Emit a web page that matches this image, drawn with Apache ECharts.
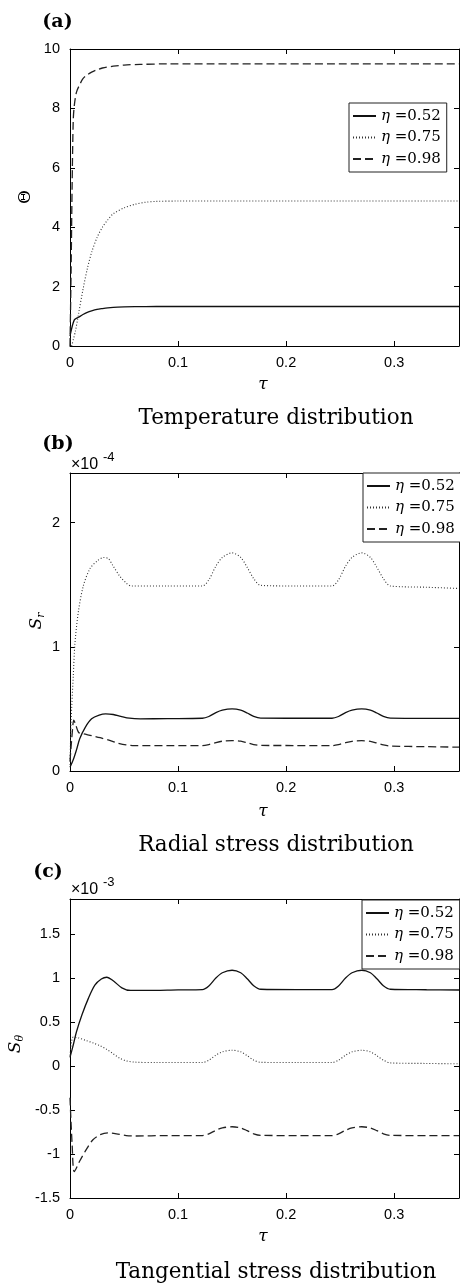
<!DOCTYPE html>
<html>
<head>
<meta charset="utf-8">
<script src="https://cdn.jsdelivr.net/npm/echarts@6/dist/echarts.min.js"></script>
<style>html,body{margin:0;padding:0;background:#fff;}#c{width:460px;height:1287px;}</style>
</head>
<body>
<div id="c"></div>
<script>
// ---- data ----
const etaNames = ['η =0.52', 'η =0.75', 'η =0.98'];
const panelTitles = ['Temperature distribution', 'Radial stress distribution', 'Tangential stress distribution'];
const xTicks = [0, 0.1, 0.2, 0.3];

// (a) Temperature Θ vs τ
const thetaEta052 = [[0,0.33],[0.004,0.88],[0.008,0.97],[0.012,1.06],[0.016,1.13],[0.02,1.18],[0.025,1.23],[0.03,1.26],[0.035,1.285],[0.04,1.3],[0.05,1.315],[0.06,1.325],[0.08,1.33],[0.12,1.33],[0.36,1.33]];
const thetaEta075 = [[0.0015,0],[0.005,0.5],[0.008,1.1],[0.012,1.9],[0.016,2.6],[0.02,3.15],[0.025,3.65],[0.03,4.0],[0.035,4.25],[0.04,4.45],[0.05,4.65],[0.06,4.77],[0.07,4.84],[0.08,4.87],[0.1,4.88],[0.36,4.88]];
const thetaEta098 = [[0,0],[0.001,2.5],[0.002,5.5],[0.003,7.6],[0.004,8.1],[0.006,8.55],[0.009,8.8],[0.012,9.0],[0.016,9.13],[0.02,9.22],[0.025,9.3],[0.03,9.36],[0.04,9.42],[0.05,9.46],[0.065,9.48],[0.09,9.5],[0.36,9.5]];

// (b) Radial stress S_r (×10^-4) vs τ
const srEta052 = [[0,0.03],[0.003,0.09],[0.006,0.17],[0.009,0.26],[0.014,0.35],[0.02,0.42],[0.027,0.45],[0.033,0.46],[0.04,0.455],[0.047,0.44],[0.055,0.425],[0.065,0.42],[0.09,0.422],[0.1225,0.425],[0.1285,0.439],[0.135,0.47],[0.141,0.49],[0.15,0.5],[0.158,0.49],[0.164,0.467],[0.17,0.44],[0.1765,0.426],[0.2,0.425],[0.2425,0.425],[0.2485,0.439],[0.255,0.47],[0.261,0.49],[0.27,0.5],[0.278,0.49],[0.284,0.467],[0.29,0.44],[0.2965,0.426],[0.33,0.424],[0.36,0.424]];
const srEta075 = [[0,0.05],[0.001,0.4],[0.003,0.76],[0.0046,1.03],[0.0077,1.28],[0.0123,1.49],[0.0185,1.63],[0.025,1.69],[0.031,1.72],[0.0355,1.71],[0.04,1.65],[0.046,1.57],[0.0525,1.51],[0.057,1.49],[0.09,1.49],[0.1225,1.49],[0.1285,1.54],[0.135,1.65],[0.141,1.72],[0.15,1.757],[0.158,1.72],[0.164,1.64],[0.17,1.55],[0.1765,1.495],[0.21,1.49],[0.2425,1.49],[0.2485,1.54],[0.255,1.65],[0.261,1.72],[0.27,1.757],[0.278,1.72],[0.284,1.64],[0.29,1.55],[0.2965,1.49],[0.33,1.48],[0.36,1.47]];
const srEta098 = [[0,0.08],[0.002,0.3],[0.0035,0.41],[0.005,0.38],[0.008,0.31],[0.012,0.3],[0.02,0.285],[0.028,0.268],[0.036,0.248],[0.044,0.225],[0.052,0.21],[0.06,0.205],[0.09,0.205],[0.1225,0.205],[0.1285,0.213],[0.135,0.229],[0.141,0.24],[0.15,0.245],[0.158,0.24],[0.164,0.227],[0.17,0.213],[0.1765,0.206],[0.21,0.205],[0.2425,0.204],[0.2485,0.212],[0.255,0.228],[0.261,0.239],[0.27,0.244],[0.278,0.239],[0.284,0.225],[0.29,0.21],[0.2965,0.201],[0.33,0.196],[0.36,0.192]];

// (c) Tangential stress S_θ (×10^-3) vs τ
const stEta052 = [[0,0.1],[0.003,0.24],[0.006,0.39],[0.011,0.58],[0.017,0.77],[0.023,0.92],[0.029,0.99],[0.034,1.01],[0.04,0.97],[0.048,0.89],[0.056,0.86],[0.07,0.86],[0.1,0.866],[0.1225,0.87],[0.1285,0.912],[0.135,1.002],[0.141,1.061],[0.15,1.09],[0.158,1.061],[0.164,0.993],[0.17,0.914],[0.1765,0.874],[0.21,0.87],[0.2425,0.87],[0.2485,0.912],[0.255,1.002],[0.261,1.061],[0.27,1.09],[0.278,1.061],[0.284,0.993],[0.29,0.914],[0.2965,0.874],[0.33,0.868],[0.36,0.865]];
const stEta075 = [[0,0.12],[0.003,0.33],[0.008,0.32],[0.015,0.29],[0.022,0.26],[0.028,0.23],[0.034,0.19],[0.04,0.14],[0.046,0.09],[0.052,0.06],[0.06,0.045],[0.08,0.04],[0.1225,0.04],[0.1285,0.067],[0.135,0.124],[0.141,0.162],[0.15,0.18],[0.158,0.162],[0.164,0.118],[0.17,0.068],[0.1765,0.043],[0.21,0.04],[0.2425,0.04],[0.2485,0.067],[0.255,0.124],[0.261,0.162],[0.27,0.18],[0.278,0.162],[0.284,0.118],[0.29,0.068],[0.2965,0.036],[0.33,0.03],[0.36,0.026]];
const stEta098 = [[0,-0.36],[0.002,-0.9],[0.004,-1.2],[0.009,-1.08],[0.015,-0.95],[0.021,-0.84],[0.028,-0.78],[0.035,-0.76],[0.043,-0.77],[0.052,-0.79],[0.06,-0.795],[0.09,-0.79],[0.1225,-0.79],[0.1285,-0.771],[0.135,-0.73],[0.141,-0.703],[0.15,-0.69],[0.158,-0.703],[0.164,-0.734],[0.17,-0.77],[0.1765,-0.788],[0.21,-0.79],[0.2425,-0.79],[0.2485,-0.771],[0.255,-0.73],[0.261,-0.703],[0.27,-0.69],[0.278,-0.703],[0.284,-0.734],[0.29,-0.77],[0.2965,-0.788],[0.33,-0.79],[0.36,-0.79]];

// axis ranges
const xRange = [0, 0.36, 0.1];
const yRanges = [[0, 10, 2], [0, 2.4, 1], [-1.5, 1.9, 0.5]];

// ---- layout / style ----
const SANS = 'Liberation Sans, Arial, Helvetica, sans-serif';
const SERIF = 'DejaVu Serif, serif';
const grids = [
  {left: 70, top: 49, width: 389, height: 297},
  {left: 70, top: 473, width: 389, height: 298},
  {left: 70, top: 899, width: 389, height: 299}
];
const styles = [
  {color: '#111', width: 1.3, type: 'solid'},
  {color: '#333', width: 1.1, type: [1, 2]},
  {color: '#222', width: 1.3, type: [8, 4]}
];
const seriesData = [
  [thetaEta052, thetaEta075, thetaEta098],
  [srEta052, srEta075, srEta098],
  [stEta052, stEta075, stEta098]
];

const xAxes = [], yAxes = [], series = [];
grids.forEach((g, i) => {
  const axisLine = {show: true, onZero: false, lineStyle: {color: '#000', width: 1}};
  const tick = {show: true, inside: true, length: 5, lineStyle: {color: '#000', width: 1}};
  xAxes.push({type: 'value', gridIndex: i, position: 'bottom', min: xRange[0], max: xRange[1], interval: xRange[2],
    axisLine, axisTick: tick, splitLine: {show: false},
    axisLabel: {showMaxLabel: false, margin: 9, color: '#000', fontSize: 14.5, fontFamily: SANS}});
  xAxes.push({type: 'value', gridIndex: i, position: 'top', min: xRange[0], max: xRange[1], interval: xRange[2],
    axisLine, axisTick: tick, splitLine: {show: false}, axisLabel: {show: false}});
  const yr = yRanges[i];
  yAxes.push({type: 'value', gridIndex: i, position: 'left', min: yr[0], max: yr[1], interval: yr[2],
    axisLine, axisTick: tick, splitLine: {show: false},
    axisLabel: {showMaxLabel: i === 0, margin: 10, color: '#000', fontSize: 14.5, fontFamily: SANS}});
  yAxes.push({type: 'value', gridIndex: i, position: 'right', min: yr[0], max: yr[1], interval: yr[2],
    axisLine, axisTick: tick, splitLine: {show: false}, axisLabel: {show: false}});
  seriesData[i].forEach((d, k) => {
    series.push({type: 'line', name: etaNames[k], xAxisIndex: i * 2, yAxisIndex: i * 2, data: d,
      symbol: 'none', smooth: 0.3, lineStyle: styles[k], itemStyle: {color: styles[k].color}});
  });
});

const legendPos = [{left: 349, top: 103}, {left: 363, top: 473}, {left: 362, top: 900}];
const legends = legendPos.map(p => ({
  data: etaNames, orient: 'vertical', left: p.left, top: p.top,
  padding: [5, 6, 5, 3], itemGap: 5.5, itemWidth: 23, itemHeight: 14,
  borderColor: '#222', borderWidth: 1, backgroundColor: '#fff', selectedMode: false,
  itemStyle: {color: 'rgba(0,0,0,0)', borderColor: 'rgba(0,0,0,0)', borderWidth: 0, opacity: 0},
  formatter: n => '{i|η} ' + n.replace('η ', ''),
  textStyle: {color: '#000', fontFamily: SERIF, fontSize: 15, lineHeight: 16,
    rich: {i: {fontStyle: 'italic', fontFamily: SERIF, fontSize: 15, color: '#000', lineHeight: 16}}}
}));

function txt(x, y, text, font, extra) {
  return {type: 'text', x, y, silent: true,
    style: Object.assign({text, font, fill: '#000', align: 'center', verticalAlign: 'middle'}, extra || {})};
}
const graphics = [
  txt(57.5, 22, '(a)', 'bold 19px ' + SERIF),
  txt(58, 444, '(b)', 'bold 19px ' + SERIF),
  txt(48, 872.5, '(c)', 'bold 19px ' + SERIF),
  txt(276, 418, panelTitles[0], '21.5px ' + SERIF),
  txt(276, 845, panelTitles[1], '21.5px ' + SERIF),
  txt(276, 1272, panelTitles[2], '21.5px ' + SERIF),
  txt(263, 385, 'τ', 'italic 17px ' + SERIF),
  txt(263, 812, 'τ', 'italic 17px ' + SERIF),
  txt(263, 1237, 'τ', 'italic 17px ' + SERIF),
  Object.assign(txt(26, 197, 'Θ', '17px ' + SERIF), {rotation: Math.PI / 2}),
  Object.assign(txt(37, 621, '{s|S}{b|r}', '17px ' + SERIF, {rich: {
    s: {fontStyle: 'italic', fontSize: 17, fontFamily: SERIF, lineHeight: 20, verticalAlign: 'middle'},
    b: {fontStyle: 'italic', fontSize: 11, fontFamily: SERIF, lineHeight: 20, verticalAlign: 'bottom'}}}), {rotation: Math.PI / 2}),
  Object.assign(txt(16, 1044, '{s|S}{b|θ}', '17px ' + SERIF, {rich: {
    s: {fontStyle: 'italic', fontSize: 17, fontFamily: SERIF, lineHeight: 20, verticalAlign: 'middle'},
    b: {fontStyle: 'italic', fontSize: 11, fontFamily: SERIF, lineHeight: 20, verticalAlign: 'bottom'}}}), {rotation: Math.PI / 2}),
  txt(71, 465, '×10', '16px ' + SANS, {align: 'left'}),
  txt(103, 457, '-4', '13px ' + SANS, {align: 'left'}),
  txt(71, 890, '×10', '16px ' + SANS, {align: 'left'}),
  txt(103, 882, '-3', '13px ' + SANS, {align: 'left'})
];

const chart = echarts.init(document.getElementById('c'), null, {renderer: 'canvas'});
chart.setOption({
  animation: false,
  backgroundColor: '#fff',
  grid: grids,
  xAxis: xAxes,
  yAxis: yAxes,
  legend: legends,
  series,
  graphic: graphics
});
</script>
</body>
</html>
